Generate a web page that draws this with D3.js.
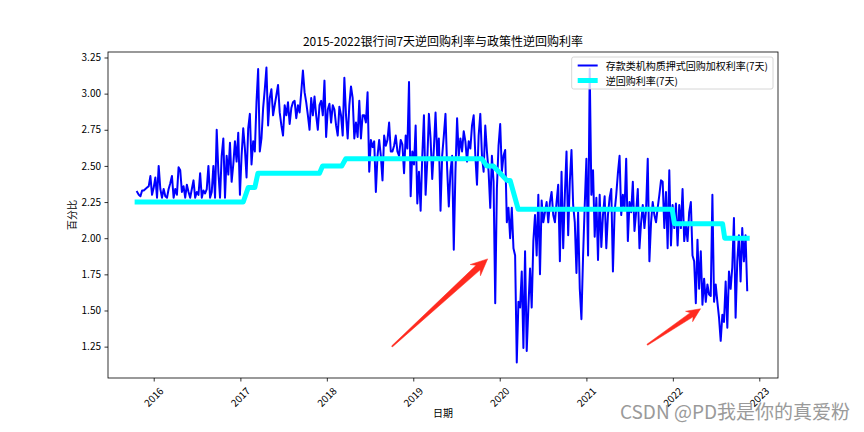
<!DOCTYPE html>
<html><head><meta charset="utf-8">
<script src="https://cdn.jsdelivr.net/npm/d3@7"></script>
<style>
html,body{margin:0;padding:0;background:#fff;}
svg{display:block;}
text{font-family:"Noto Sans CJK SC","Noto Sans",sans-serif;fill:#000;}
</style></head><body>
<svg id="chart" width="864" height="432"></svg>
<script>
// ---------------- data ----------------
const titleText = "2015-2022银行间7天逆回购利率与政策性逆回购利率";
const xLabel = "日期";
const yLabel = "百分比";
const seriesNames = ["存款类机构质押式回购加权利率(7天)", "逆回购利率(7天)"];
const watermarkText = "CSDN @PD我是你的真爱粉";

// weekly samples of the interbank 7-day pledged repo rate (DR007)
const repoStart = "2015-10-23";
const repoStepDays = 7;
const repoValues = [
  2.32,2.30,2.29,2.33,2.33,2.34,2.35,2.36,2.43,2.30,
  2.35,2.42,2.28,2.50,2.34,2.28,2.34,2.29,2.28,2.34,
  2.38,2.43,2.28,2.34,2.30,2.49,2.47,2.32,2.36,2.28,
  2.37,2.32,2.28,2.34,2.40,2.28,2.32,2.30,2.45,2.28,
  2.33,2.31,2.34,2.50,2.28,2.32,2.50,2.28,2.75,2.46,
  2.28,2.57,2.69,2.28,2.57,2.44,2.66,2.39,2.51,2.67,
  2.53,2.73,2.30,2.57,2.76,2.62,2.42,2.76,2.86,2.51,
  2.67,2.60,2.94,3.17,2.60,2.69,2.90,3.03,3.18,2.78,
  2.97,3.03,2.85,2.92,2.99,3.06,2.87,2.78,2.71,2.92,
  2.85,2.94,2.79,2.90,2.94,2.95,2.83,2.92,2.87,3.01,
  3.16,3.01,2.94,2.85,2.75,2.97,2.85,2.98,2.85,2.75,
  2.92,2.95,2.85,3.09,2.70,2.89,2.93,2.80,2.92,2.89,
  2.78,2.71,2.91,2.85,2.71,3.11,2.85,2.69,2.92,3.05,
  2.97,2.69,2.80,2.70,2.95,2.69,2.85,2.85,2.80,3.01,
  2.46,2.68,2.63,2.67,2.32,2.57,2.68,2.57,2.40,2.71,
  2.64,2.68,2.80,2.60,2.60,2.64,2.71,2.60,2.57,2.68,
  2.65,2.45,2.71,2.62,3.08,2.29,2.60,2.51,2.78,2.24,
  2.46,2.19,2.57,2.85,2.30,2.53,2.86,2.69,2.41,2.62,
  2.87,2.57,2.69,2.19,2.57,2.71,2.86,2.48,2.22,2.46,
  2.57,1.92,2.46,2.83,2.57,2.69,2.60,2.74,2.67,2.53,
  2.67,2.62,2.78,2.85,2.57,2.37,2.71,2.86,2.57,2.46,
  2.78,2.60,2.46,2.21,2.57,2.39,1.55,2.34,2.64,2.79,
  2.46,2.57,2.61,2.11,2.21,2.00,2.21,1.93,1.88,1.14,
  1.56,1.52,1.77,1.24,1.91,1.22,1.52,1.79,1.52,1.98,
  2.16,1.88,2.30,1.75,2.26,2.11,2.18,2.25,2.11,2.25,
  2.32,2.16,2.11,2.25,2.37,1.84,2.46,1.93,2.30,2.60,
  2.02,2.39,2.61,2.23,2.11,1.76,2.18,1.65,1.44,1.88,
  2.23,2.55,1.88,3.17,2.30,2.47,2.01,2.28,1.85,2.30,
  1.94,2.16,2.29,1.93,2.16,2.28,2.34,1.77,2.18,2.30,
  2.45,2.57,2.16,2.30,2.20,2.55,1.98,2.25,2.18,2.39,
  2.05,2.18,2.34,1.93,2.11,2.23,2.07,2.20,2.55,1.84,
  2.11,2.25,2.16,2.11,2.21,2.30,2.40,2.39,2.07,2.32,
  1.93,2.47,1.95,2.23,2.07,2.24,1.95,2.23,2.07,2.34,
  1.98,2.09,1.98,2.18,2.25,1.88,1.84,1.55,1.99,1.65,
  1.91,1.54,1.72,1.56,1.68,1.61,1.60,2.30,1.56,1.68,
  1.56,1.45,1.29,1.47,1.42,1.70,1.38,1.77,1.65,1.80,
  2.14,1.45,1.84,2.02,1.70,2.07,1.84,2.02,1.64
];

// policy 7-day reverse repo rate, as plotted (operation dates)
const policyDates = [
  "2015-10-23","2017-01-13","2017-02-03","2017-03-03","2017-03-16",
  "2017-12-01","2017-12-14","2018-03-05","2018-03-22","2019-10-17",
  "2019-11-07","2019-12-05","2020-01-31","2020-02-14","2020-03-19",
  "2021-12-29","2022-01-08","2022-07-30","2022-08-08","2022-11-11"
];
const policyRates = [
  2.25,2.25,2.35,2.35,2.45,
  2.45,2.50,2.50,2.55,2.55,
  2.50,2.50,2.40,2.40,2.20,
  2.20,2.10,2.10,2.00,2.00
];

const yTickValues = [1.25,1.50,1.75,2.00,2.25,2.50,2.75,3.00,3.25];
const xTickYears = [2016,2017,2018,2019,2020,2021,2022,2023];
const xDomainDates = ["2015-06-22","2023-03-21"];
const yDomainValues = [1.033, 3.288];

// red annotation arrows (tail -> tip) in data coordinates
const arrowTailDates = ["2018-10-03","2021-09-15"];
const arrowTailValues = [1.251, 1.263];
const arrowTipDates = ["2019-11-11","2022-04-28"];
const arrowTipValues = [1.857, 1.512];

// ---------------- chart ----------------
const W = 864, H = 432;
const M = {left:108, top:52, right:778, bottom:378};
const parse = d3.timeParse("%Y-%m-%d");
const svg = d3.select("#chart");

const x = d3.scaleTime().domain(xDomainDates.map(parse)).range([M.left, M.right]);
const y = d3.scaleLinear().domain(yDomainValues).range([M.bottom, M.top]);

const start = parse(repoStart);
const repo = repoValues.map((v,i)=>({d:d3.timeDay.offset(start, i*repoStepDays), v}));
const policy = policyDates.map((d,i)=>({d:parse(d), v:policyRates[i]}));

const g = svg.append("g");

// lines
const line = d3.line().x(p=>x(p.d)).y(p=>y(p.v));
g.append("path").datum(repo).attr("d", line)
  .attr("fill","none").attr("stroke","#0000ff").attr("stroke-width",2)
  .attr("stroke-linejoin","round").attr("stroke-linecap","square");
g.append("path").datum(policy).attr("d", line)
  .attr("fill","none").attr("stroke","#00ffff").attr("stroke-width",5)
  .attr("stroke-linejoin","round").attr("stroke-linecap","square");

// frame
svg.append("rect").attr("x",M.left).attr("y",M.top)
  .attr("width",M.right-M.left).attr("height",M.bottom-M.top)
  .attr("fill","none").attr("stroke","#000").attr("stroke-width",0.8);

// y axis
const yAxis = svg.append("g").attr("transform",`translate(${M.left},0)`)
  .call(d3.axisLeft(y).tickValues(yTickValues).tickFormat(d3.format(".2f"))
        .tickSize(3.5).tickPadding(3.5));
yAxis.select(".domain").remove();
yAxis.selectAll(".tick line").attr("stroke","#000").attr("stroke-width",0.8);
yAxis.selectAll(".tick text").attr("font-size",10).attr("font-family",null).attr("fill","#000");

// x axis
const xTicks = xTickYears.map(yr=>new Date(yr,0,1));
const xAxis = svg.append("g").attr("transform",`translate(0,${M.bottom})`)
  .call(d3.axisBottom(x).tickValues(xTicks).tickFormat(d3.timeFormat("%Y"))
        .tickSize(3.5).tickPadding(3.5));
xAxis.select(".domain").remove();
xAxis.selectAll(".tick line").attr("stroke","#000").attr("stroke-width",0.8);
xAxis.selectAll(".tick text").each(function(){
  const t = d3.select(this);
  t.attr("font-size",10).attr("font-family",null).attr("fill","#000");
  const w = this.getComputedTextLength();
  const h = 10;
  const bh = (w + h) * Math.SQRT1_2;
  t.attr("y",null).attr("dy",null)
   .attr("text-anchor","middle").attr("dominant-baseline","central")
   .attr("transform",`translate(-1,${7 + bh/2}) rotate(-45)`);
});

// title & axis labels
svg.append("text").attr("x",(M.left+M.right)/2).attr("y",46)
  .attr("text-anchor","middle").attr("font-size",12).text(titleText);
svg.append("text").attr("x",(M.left+M.right)/2).attr("y",417)
  .attr("text-anchor","middle").attr("font-size",10).text(xLabel);
svg.append("text").attr("transform",`translate(71,${(M.top+M.bottom)/2}) rotate(-90)`)
  .attr("text-anchor","middle").attr("dominant-baseline","central")
  .attr("font-size",10).text(yLabel);

// legend
const lg = svg.append("g");
const lgBox = lg.append("rect").attr("rx",2).attr("ry",2)
  .attr("fill","#fff").attr("fill-opacity",0.8)
  .attr("stroke","#cccccc").attr("stroke-width",0.8);
const rowY = [65.5, 80.5];
const styles = [{c:"#0000ff",w:2},{c:"#00ffff",w:5}];
let maxW = 0;
const labels = seriesNames.map((n,i)=>{
  const t = lg.append("text").attr("y",rowY[i]).attr("dominant-baseline","central")
    .attr("font-size",10).text(n);
  maxW = Math.max(maxW, t.node().getComputedTextLength());
  return t;
});
const lgRight = 773, lgTop = 57;
const lgW = 4 + 20 + 8 + maxW + 4 + 3;
const lgLeft = lgRight - lgW;
lgBox.attr("x",lgLeft).attr("y",lgTop).attr("width",lgW).attr("height",32);
labels.forEach((t,i)=>{
  t.attr("x", lgLeft + 4 + 2 + 20 + 8);
  lg.append("line").attr("x1",lgLeft+6).attr("x2",lgLeft+26)
    .attr("y1",rowY[i]).attr("y2",rowY[i])
    .attr("stroke",styles[i].c).attr("stroke-width",styles[i].w)
    .attr("stroke-linecap","butt");
});

// red arrows
const arrowG = svg.append("g");
arrowTailDates.forEach((td,i)=>{
  const x0 = x(parse(td)), y0 = y(arrowTailValues[i]);
  const x1 = x(parse(arrowTipDates[i])), y1 = y(arrowTipValues[i]);
  const dx = x1-x0, dy = y1-y0, L = Math.hypot(dx,dy);
  const ux = dx/L, uy = dy/L, nx = -uy, ny = ux;
  const hl = 10 + L*0.04;
  const neck = hl*0.2, barb = hl*0.5;
  const P = (s,w)=>[x0+ux*s+nx*w, y0+uy*s+ny*w];
  const pts = [P(0,0.6), P(L-hl*0.85,neck), P(L-hl*1.1,barb), P(L,0),
               P(L-hl*1.1,-barb), P(L-hl*0.85,-neck), P(0,-0.6)];
  arrowG.append("path").attr("d","M"+pts.map(p=>p.join(",")).join("L")+"Z")
    .attr("fill","#ff2a1f").attr("stroke","#ff2a1f").attr("stroke-width",0.5)
    .attr("stroke-linejoin","round");
});

// watermark
svg.append("text").attr("x",850).attr("y",419).attr("text-anchor","end")
  .attr("font-size",19).attr("fill","#9a9a9a").style("fill","#9a9a9a")
  .text(watermarkText);
</script>
</body></html>
